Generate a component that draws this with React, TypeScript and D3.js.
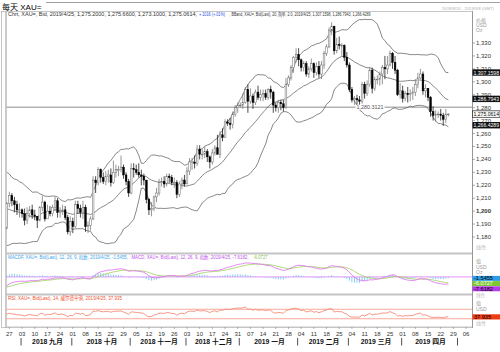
import * as d3 from 'd3';

const FONT = '"Liberation Sans", Arial, "Noto Sans CJK SC", sans-serif';

// daily bars (weekdays) from 2018-08-24; axis runs to 2019-05-08
const firstDay = new Date(2018, 7, 24);
const axisEnd = new Date(2019, 4, 9);

// closes before the first drawn bar (Jul 2 - Aug 23 2018), only used to seed indicators
const warmupCloses = [
  1241, 1253, 1253, 1257, 1255,
  1258, 1255, 1245, 1246, 1241,
  1240, 1227, 1224, 1224, 1231,
  1224, 1226, 1231, 1223, 1223,
  1220, 1224, 1215, 1208, 1214,
  1208, 1212, 1213, 1212, 1212,
  1194, 1193, 1173, 1177, 1184,
  1190, 1196, 1196, 1187,
];

const highs = [
  1207,
  1215, 1214, 1211, 1208, 1206,
  1202, 1202, 1203, 1204, 1205,
  1201, 1196, 1204, 1212, 1208,
  1205, 1204, 1205, 1211, 1210,
  1203, 1205, 1204, 1197, 1196,
  1195, 1208, 1208, 1205, 1208,
  1205, 1192, 1196, 1227, 1227,
  1234, 1233, 1230, 1231, 1232,
  1233, 1239, 1236, 1235, 1243,
  1236, 1230, 1225, 1237, 1237,
  1236, 1237, 1232, 1229, 1224,
  1210, 1207, 1212, 1218, 1225,
  1226, 1227, 1229, 1229, 1228,
  1226, 1224, 1223, 1226, 1228,
  1234, 1241, 1241, 1243, 1251,
  1251, 1248, 1250, 1248, 1243,
  1248, 1251, 1259, 1262, 1264,
  1271, 1271, 1272, 1277, 1282,
  1284, 1284, 1291, 1296, 1298,
  1295, 1291, 1294, 1297, 1294,
  1294, 1294, 1295, 1297, 1293,
  1284, 1286, 1286, 1286, 1303,
  1305, 1313, 1320, 1326, 1326,
  1318, 1316, 1316, 1312, 1318,
  1315, 1315, 1316, 1316, 1324,
  1329, 1342, 1346, 1343, 1334,
  1335, 1330, 1329, 1323, 1315,
  1296, 1289, 1290, 1289, 1300,
  1300, 1301, 1311, 1311, 1304,
  1305, 1308, 1313, 1320, 1320,
  1324, 1323, 1320, 1310, 1299,
  1297, 1293, 1296, 1294, 1296,
  1302, 1307, 1310, 1308, 1298,
  1295, 1289, 1281, 1278, 1277,
  1279, 1276, 1279, 1275.66,
];

const lows = [
  1186,
  1203, 1204, 1199, 1197, 1195,
  1195, 1189, 1190, 1195, 1194,
  1193, 1187, 1192, 1200, 1192,
  1194, 1196, 1196, 1200, 1195,
  1195, 1197, 1193, 1182, 1181,
  1183, 1187, 1198, 1195, 1194,
  1184, 1183, 1185, 1193, 1214,
  1220, 1222, 1221, 1220, 1222,
  1219, 1221, 1226, 1227, 1230,
  1225, 1220, 1211, 1213, 1226,
  1228, 1226, 1220, 1220, 1206,
  1197, 1196, 1200, 1207, 1212,
  1219, 1218, 1219, 1222, 1220,
  1218, 1210, 1211, 1217, 1219,
  1221, 1228, 1232, 1233, 1235,
  1240, 1240, 1241, 1238, 1233,
  1236, 1243, 1244, 1241, 1254,
  1257, 1266, 1263, 1264, 1273,
  1276, 1280, 1279, 1283, 1276,
  1283, 1279, 1282, 1286, 1285,
  1285, 1286, 1286, 1287, 1276,
  1277, 1276, 1278, 1277, 1279,
  1296, 1301, 1307, 1315, 1312,
  1308, 1308, 1304, 1303, 1308,
  1303, 1305, 1303, 1302, 1310,
  1320, 1326, 1336, 1321, 1322,
  1325, 1320, 1316, 1311, 1292,
  1284, 1282, 1282, 1280.31, 1283,
  1287, 1289, 1296, 1291, 1293,
  1298, 1297, 1298, 1302, 1306,
  1312, 1310, 1306, 1289, 1287,
  1284, 1285, 1284, 1285, 1286,
  1289, 1295, 1302, 1290, 1288,
  1285, 1273, 1270, 1269, 1272,
  1270, 1266, 1268, 1273.1,
];

const closes = [
  1206,
  1212, 1208, 1205, 1201, 1201,
  1198, 1193, 1198, 1201, 1197,
  1196, 1193, 1203, 1207, 1194,
  1200, 1198, 1203, 1208, 1199,
  1200, 1201, 1195, 1184, 1192,
  1188, 1205, 1202, 1199, 1203,
  1188, 1189, 1194, 1224, 1222,
  1232, 1226, 1223, 1227, 1228,
  1222, 1230, 1232, 1232, 1234,
  1228, 1223, 1214, 1233, 1232,
  1230, 1228, 1227, 1224, 1209,
  1201, 1202, 1211, 1214, 1222,
  1223, 1221, 1227, 1226, 1222,
  1222, 1213, 1221, 1224, 1221,
  1231, 1238, 1238, 1237, 1248,
  1244, 1244, 1246, 1242, 1238,
  1245, 1249, 1244, 1259, 1257,
  1269, 1268, 1267, 1275, 1280,
  1282, 1282, 1284, 1294, 1285,
  1289, 1284, 1292, 1288, 1290,
  1291, 1288, 1294, 1292, 1282,
  1280, 1284, 1283, 1280, 1298,
  1303, 1311, 1319, 1321, 1317,
  1311, 1314, 1306, 1310, 1314,
  1307, 1312, 1306, 1313, 1322,
  1327, 1340, 1343, 1324, 1329,
  1328, 1328, 1319, 1313, 1294,
  1286, 1287, 1286, 1285, 1298,
  1291, 1298, 1309, 1295, 1302,
  1302, 1306, 1311, 1310, 1313,
  1322, 1315, 1309, 1290, 1293,
  1287, 1291, 1290, 1291, 1292,
  1298, 1303, 1306, 1293, 1295,
  1288, 1277, 1274, 1275, 1275,
  1274, 1271, 1274.96, 1275.0614,
];

const priceTicks = [1180, 1190, 1200, 1210, 1220, 1230, 1240, 1250, 1260, 1270, 1280, 1290, 1300, 1310, 1320, 1330];
const monthLabels = ['2018 九月', '2018 十月', '2018 十一月', '2018 十二月', '2019 一月', '2019 二月', '2019 三月', '2019 四月'];
const markerLevel = 1280.3121;

const bbLast = [1307.1598, 1286.7943, 1266.4289];
const lastClose = 1275.0614;
const macdLast = { hist: -1.5455, macd: -7.6182, signal: -6.0727 };
const rsiLast = 37.935;

// legend pieces: [text, colour, x start, width]
const priceLegend: [string, string, number, number][] = [
  ['Chrt, XAU=, Bid, 2019/4/25, 1,275.2000, 1,275.6600, 1,273.1000, 1,275.0614,', '#333', 8, 189],
  ['+.1016 (+.01%)', '#2a4fe0', 199, 26],
  [', BBand, XAU=, Bid(Last), 20, 简单, 2.0, 2019/4/25, 1,307.1598, 1,286.7943, 1,266.4289', '#333', 229.5, 141],
];
const macdLegend: [string, string, number, number][] = [
  ['MACDF, XAU=, Bid(Last), 12, 26, 9, 指数, 2019/4/25, -1.5455,', '#3aa6ee', 8, 120],
  ['MACD, XAU=, Bid(Last), 12, 26, 9, 指数, 2019/4/25, -7.6182,', '#c050ee', 131.5, 117],
  ['-6.0727', '#86c040', 253.5, 14],
];

// ---- indicators ----
const all = [...warmupCloses, ...closes];
const off = warmupCloses.length;

function ema(vals: number[], n: number) {
  const k = 2 / (n + 1);
  const out: number[] = [];
  vals.forEach((v, i) => out.push(i === 0 ? v : v * k + out[i - 1] * (1 - k)));
  return out;
}
const e12 = ema(all, 12);
const e26 = ema(all, 26);
const macd = all.map((_, i) => e12[i] - e26[i]);
const signal = ema(macd, 9);

const bands = all.map((_, i) => {
  const w = all.slice(Math.max(0, i - 19), i + 1);
  const m = d3.mean(w)!;
  const sd = Math.sqrt(d3.mean(w, (v) => (v - m) ** 2)!);
  return { mid: m, up: m + 2 * sd, lo: m - 2 * sd };
});

const rsi: number[] = [];
{
  let ag = 0, al = 0;
  for (let i = 1; i < all.length; i++) {
    const ch = all[i] - all[i - 1];
    const g = Math.max(ch, 0), l = Math.max(-ch, 0);
    if (i <= 14) { ag += g / 14; al += l / 14; }
    else { ag = (ag * 13 + g) / 14; al = (al * 13 + l) / 14; }
    rsi[i] = al === 0 ? 100 : 100 - 100 / (1 + ag / al);
  }
}

// ---- scales ----
const days = d3.timeDay.range(firstDay, axisEnd).filter((d) => d.getDay() !== 0 && d.getDay() !== 6);
const key = d3.timeFormat('%Y-%m-%d');
const xb = d3.scaleBand<string>().domain(days.map(key)).range([6, 472]).paddingInner(0.35);
const cx = (i: number) => xb(key(days[i]))! + xb.bandwidth() / 2;
const yP = d3.scaleLinear().domain([1180, 1330]).range([237, 43]);
const yM = d3.scaleLinear().domain([-17, 24.2]).range([293, 254]);
const yR = d3.scaleLinear().domain([0, 100]).range([326, 302]);

const idx = d3.range(closes.length);
const bbLine = (f: 'mid' | 'up' | 'lo') =>
  d3.line<number>().x((i) => cx(i)).y((i) => yP(bands[i + off][f]))(idx)!;
const macdPath = d3.line<number>().x((i) => cx(i)).y((i) => yM(macd[i + off]))(idx)!;
const sigPath = d3.line<number>().x((i) => cx(i)).y((i) => yM(signal[i + off]))(idx)!;
const rsiPath = d3.line<number>().x((i) => cx(i)).y((i) => yR(rsi[i + off]))(idx)!;

const mondays = days.map((d, i) => ({ d, i })).filter((o) => o.d.getDay() === 1);
const monthStarts = days.map((d, i) => ({ d, i })).filter((o, j) => j > 0 && o.d.getMonth() !== days[j - 1].getMonth());

const fmt = d3.format(',');
const GRAY = '#9a9a9a';

function AxisBox({ y, text, bg, fg, border }: { y: number; text: string; bg: string; fg: string; border?: string }) {
  return (
    <g>
      <rect x={472.5} y={y - 3.2} width={27.5} height={6.4} fill={bg} stroke={border || 'none'} strokeWidth={0.6} />
      <text x={473.5} y={y + 2} fontSize={5.6} fill={fg} textLength={25.5} lengthAdjust="spacingAndGlyphs">{text}</text>
    </g>
  );
}

function Legend({ parts, y, size }: { parts: [string, string, number, number][]; y: number; size: number }) {
  return (
    <g>
      {parts.map(([t, c, x, w]) => (
        <text key={t} x={x} y={y} fontSize={size} fill={c} textLength={w} lengthAdjust="spacingAndGlyphs">{t}</text>
      ))}
    </g>
  );
}

export default function App() {
  const mBoxes = [
    { v: macdLast.hist, bg: '#2e9be6', fg: '#000' },
    { v: macdLast.signal, bg: '#7cc832', fg: '#fff' },
    { v: macdLast.macd, bg: '#b43ce6', fg: '#000' },
  ];
  let prev = -Infinity;
  const mBoxY = mBoxes.map((b) => { const y = Math.max(yM(b.v), prev + 5.2); prev = y; return y; });

  return (
    <svg width={500} height={352} style={{ position: 'absolute', left: 0, top: 0, background: '#fff' }} fontFamily={FONT}>
      <defs>
        <clipPath id="cp"><rect x={6} y={12} width={466} height={240} /></clipPath>
        <clipPath id="cm"><rect x={6} y={255} width={466} height={38} /></clipPath>
        <clipPath id="cr"><rect x={6} y={296} width={466} height={30} /></clipPath>
      </defs>

      {/* header */}
      <line x1={46} x2={500} y1={2.5} y2={2.5} stroke="#a0a0a0" />
      <text x={2} y={10} fontSize={8} fill="#000">每天 XAU=</text>
      <text x={442} y={9.5} fontSize={4.2} fill="#b0b0b0" textLength={52} lengthAdjust="spacingAndGlyphs">2018/8/24 - 2019/5/8 (GMT)</text>

      {/* frames */}
      <rect x={1.5} y={11.5} width={471} height={316} fill="none" stroke="#b8b8b8" strokeWidth={0.8} />
      <line x1={6} x2={6} y1={11} y2={328} stroke="#a8a8a8" strokeWidth={1.2} />
      <line x1={472.5} x2={472.5} y1={11} y2={328} stroke="#8c8c8c" strokeWidth={0.8} />
      <line x1={6} x2={472} y1={253.5} y2={253.5} stroke="#c4c4c4" strokeWidth={2.2} />
      <line x1={6} x2={472} y1={294.5} y2={294.5} stroke="#c4c4c4" strokeWidth={2.2} />
      <line x1={6} x2={472} y1={327} y2={327} stroke="#c4c4c4" strokeWidth={1} />

      {/* price pane */}
      <line x1={6} x2={472} y1={yP(markerLevel)} y2={yP(markerLevel)} stroke="#b4b4b4" strokeWidth={1.4} />
      <g clipPath="url(#cp)">
        <path d={bbLine('up')} fill="none" stroke="#555" strokeWidth={0.7} />
        <path d={bbLine('mid')} fill="none" stroke="#555" strokeWidth={0.7} />
        <path d={bbLine('lo')} fill="none" stroke="#555" strokeWidth={0.7} />
        {idx.map((i) => {
          const o = i === 0 ? warmupCloses[warmupCloses.length - 1] : closes[i - 1];
          const c = closes[i];
          const up = c >= o;
          const x = cx(i);
          const top = yP(Math.max(o, c));
          const h = Math.max(0.7, Math.abs(yP(o) - yP(c)));
          return (
            <g key={i}>
              <line x1={x} x2={x} y1={yP(highs[i])} y2={yP(lows[i])} stroke={up ? '#6a6a6a' : '#000'} strokeWidth={0.7} />
              <rect x={x - 0.85} y={top} width={1.7} height={h} fill={up ? '#fff' : '#000'} stroke={up ? '#6a6a6a' : '#000'} strokeWidth={0.5} />
            </g>
          );
        })}
      </g>
      <rect x={355.5} y={yP(markerLevel) - 2.6} width={29} height={5.2} fill="#fff" />
      <text x={356.5} y={yP(markerLevel) + 1.8} fontSize={5} fill="#555" textLength={27} lengthAdjust="spacingAndGlyphs">1,280.3121</text>

      <Legend parts={priceLegend} y={16.3} size={5} />

      {/* price axis */}
      <text x={476} y={22} fontSize={5} fill={GRAY}>价格</text>
      <text x={476} y={27} fontSize={5} fill={GRAY}>USD</text>
      <text x={476} y={32} fontSize={5} fill={GRAY}>Oz</text>
      {priceTicks.map((t) => (
        <g key={t}>
          <line x1={472.5} x2={475} y1={yP(t)} y2={yP(t)} stroke="#777" strokeWidth={0.6} />
          <text x={476} y={yP(t) + 2} fontSize={6} fill="#333" fontWeight={t === 1200 ? 'bold' : 'normal'}>{fmt(t)}</text>
        </g>
      ))}
      <AxisBox y={yP(bbLast[0])} text="1,307.1598" bg="#111" fg="#fff" />
      <AxisBox y={yP(bbLast[1])} text="1,286.7943" bg="#111" fg="#fff" />
      <AxisBox y={yP(lastClose)} text="1,275.0614" bg="#fff" fg="#000" border="#000" />
      <AxisBox y={yP(bbLast[2])} text="1,266.4289" bg="#111" fg="#fff" />
      <text x={476} y={249} fontSize={5} fill="#c0c0c0">线性</text>

      {/* MACD pane */}
      <Legend parts={macdLegend} y={258.6} size={4.6} />
      <line x1={6} x2={472} y1={yM(0)} y2={yM(0)} stroke="#e486f4" strokeWidth={0.9} />
      <g clipPath="url(#cm)">
        {idx.map((i) => {
          const h = macd[i + off] - signal[i + off];
          return <line key={i} x1={cx(i)} x2={cx(i)} y1={yM(0)} y2={yM(h)} stroke="#7cc4f4" strokeWidth={0.9} />;
        })}
        <path d={sigPath} fill="none" stroke="#a6d66a" strokeWidth={0.9} />
        <path d={macdPath} fill="none" stroke="#e07cf0" strokeWidth={0.9} />
      </g>
      <text x={476} y={263} fontSize={5} fill={GRAY}>值</text>
      <text x={476} y={268.5} fontSize={5} fill={GRAY}>USD</text>
      <text x={476} y={274} fontSize={5} fill={GRAY}>Oz</text>
      {mBoxes.map((b, j) => (
        <g key={j}>
          <rect x={472.5} y={mBoxY[j] - 2.5} width={27.5} height={5} fill={b.bg} />
          <text x={474} y={mBoxY[j] + 1.8} fontSize={5} fill={b.fg} textLength={19} lengthAdjust="spacingAndGlyphs">{b.v.toFixed(4)}</text>
        </g>
      ))}
      <text x={476} y={297} fontSize={4.6} fill="#c0c0c0">线性</text>

      {/* RSI pane */}
      <text x={8} y={299.6} fontSize={5.2} fill="#f0502e" textLength={114} lengthAdjust="spacingAndGlyphs">RSI, XAU=, Bid(Last), 14, 威尔德平滑, 2019/4/25, 37.935</text>
      <line x1={6} x2={472} y1={yR(70)} y2={yR(70)} stroke="#f8a898" strokeWidth={1.1} />
      <line x1={6} x2={472} y1={yR(30)} y2={yR(30)} stroke="#f8a898" strokeWidth={1.1} />
      <g clipPath="url(#cr)">
        <path d={rsiPath} fill="none" stroke="#f48a76" strokeWidth={0.9} />
      </g>
      <text x={476} y={305} fontSize={5} fill={GRAY}>值</text>
      <text x={476} y={310.5} fontSize={5} fill={GRAY}>USD</text>
      <rect x={472.5} y={yR(rsiLast) - 2.6} width={27.5} height={5.2} fill="#f03c14" />
      <text x={474} y={yR(rsiLast) + 1.8} fontSize={5} fill="#000" textLength={17} lengthAdjust="spacingAndGlyphs">{rsiLast.toFixed(3)}</text>
      <text x={476} y={325} fontSize={5} fill="#c0c0c0">线性</text>

      {/* date axis */}
      {mondays.map(({ d, i }) => (
        <g key={i}>
          <line x1={cx(i)} x2={cx(i)} y1={327} y2={329} stroke="#888" strokeWidth={0.6} />
          <text x={cx(i)} y={335.5} fontSize={6} fill="#333" textAnchor="middle">{d3.timeFormat('%d')(d)}</text>
        </g>
      ))}
      {monthStarts.map(({ i }) => (
        <line key={i} x1={cx(i) - 1} x2={cx(i) - 1} y1={338} y2={345.5} stroke="#222" strokeWidth={0.8} />
      ))}
      {monthLabels.map((m, j) => {
        const a = cx(monthStarts[j].i), b = cx(monthStarts[j + 1].i);
        return (
          <text key={m} x={(a + b) / 2} y={343.5} fontSize={6.8} fontWeight="bold" fill="#111" textAnchor="middle">{m}</text>
        );
      })}
    </svg>
  );
}
